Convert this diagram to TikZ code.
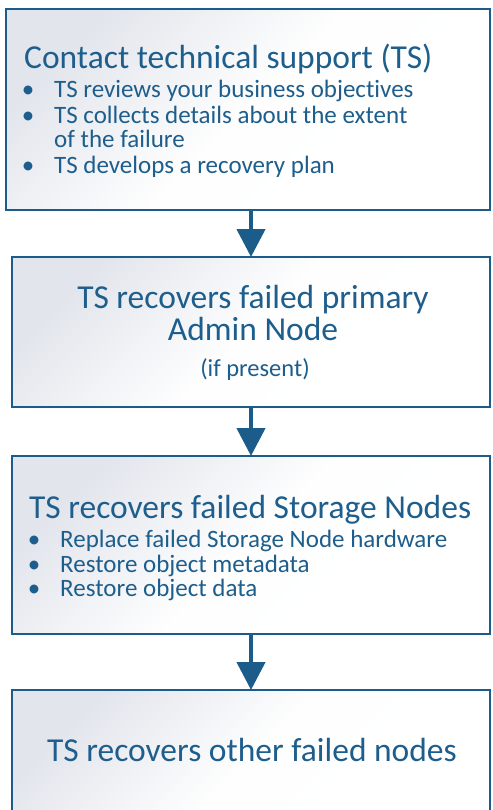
\documentclass[tikz,border=0pt]{standalone}
\usepackage{fontspec}
\setmainfont[Ligatures=NoCommon]{Carlito}
\usetikzlibrary{arrows.meta}
\definecolor{bordc}{RGB}{28,92,138}
\definecolor{txtc}{RGB}{30,94,140}
\definecolor{shadec}{RGB}{226,229,236}
\tikzset{
  box/.style={draw=bordc, line width=2.5pt, rectangle, inner sep=0pt, outer sep=0pt,
    top color=shadec, bottom color=white, middle color=white!97!shadec, shading angle=45},
  flow/.style={draw=bordc, line width=4.5pt, -{Triangle[width=28pt,length=28pt]}},
  ttl/.style={text=txtc, inner sep=0pt, font=\fontsize{33.5}{38}\selectfont},
  itm/.style={text=txtc, inner sep=0pt, anchor=base west, font=\fontsize{25}{30}\selectfont},
  dot/.style={text=txtc, inner sep=0pt, anchor=base, font=\fontsize{25}{30}\selectfont},
  sml/.style={text=txtc, inner sep=0pt, anchor=base, font=\fontsize{24.5}{28}\selectfont},
}
\begin{document}
\begin{tikzpicture}[x=1pt,y=-1pt]
\useasboundingbox (0,0) rectangle (492,810);
\clip (0,0) rectangle (492,810);
% boxes
\node[box, anchor=north west, minimum width=484pt, minimum height=201pt] (b1) at (6,9) {};
\node[box, anchor=north west, minimum width=478pt, minimum height=150pt] (b2) at (12,257) {};
\node[box, anchor=north west, minimum width=478pt, minimum height=178pt] (b3) at (12,456) {};
\node[box, anchor=north west, minimum width=478pt, minimum height=140pt] (b4) at (12,690) {};
% arrows
\draw[flow] (b2.north |- b1.south) -- (b2.north);
\draw[flow] (b2.south) -- (b3.north);
\draw[flow] (b3.south) -- (b4.north);
% box 1 text
\node[ttl, anchor=base west] (t1) at (24,69) {Contact technical support (TS)};
\node[dot] (d11) at (28,98) {•};
\node[itm] (i11) at (54,98) {TS reviews your business objectives};
\node[dot] (d12) at (28,124) {•};
\node[itm] (i12) at (54,124) {TS collects details about the extent};
\node[itm] (i12b) at (54,148) {of the failure};
\node[dot] (d13) at (28,174) {•};
\node[itm] (i13) at (54,174) {TS develops a recovery plan};
% box 2 text
\node[ttl, anchor=base] (t2a) at (253,308) {TS recovers failed primary};
\node[ttl, anchor=base] (t2b) at (253,340) {Admin Node};
\node[sml] (t2c) at (255,376) {(if present)};
% box 3 text
\node[ttl, anchor=base west] (t3) at (29,518) {TS recovers failed Storage Nodes};
\node[dot] (d31) at (34,547) {•};
\node[itm] (i31) at (60,547) {Replace failed Storage Node hardware};
\node[dot] (d32) at (34,572) {•};
\node[itm] (i32) at (60,572) {Restore object metadata};
\node[dot] (d33) at (34,596) {•};
\node[itm] (i33) at (60,596) {Restore object data};
% box 4 text
\node[ttl, anchor=base] (t4) at (252,761) {TS recovers other failed nodes};
\end{tikzpicture}
\end{document}
